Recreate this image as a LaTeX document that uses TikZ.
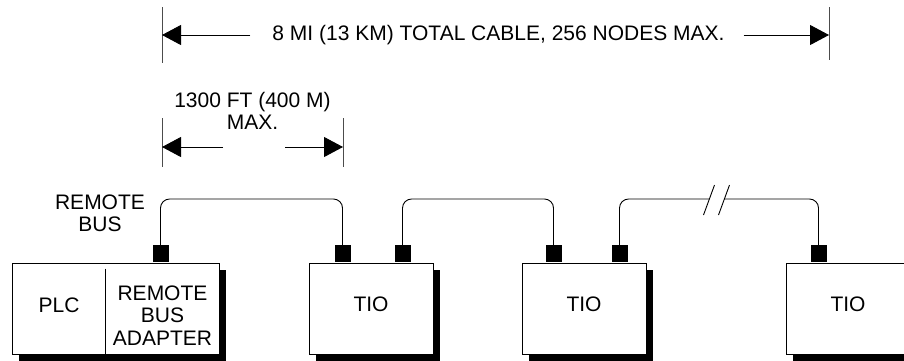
\documentclass[tikz,border=0pt]{standalone}
\usepackage{fontspec}
\setmainfont{Liberation Sans}
\usetikzlibrary{arrows.meta, shadows}
\tikzset{
    unit/.style={
        rectangle,
        draw=black,
        fill=white,
        line width=1pt,
        inner sep=0pt,
        minimum width=124pt,
        minimum height=91pt,
        drop shadow={shadow xshift=7pt, shadow yshift=-7pt, fill=black, opacity=1}
    },
    port/.style={
        rectangle,
        fill=black,
        inner sep=0pt,
        minimum width=16pt,
        minimum height=17pt,
        anchor=south
    },
    cable/.style={line width=0.9pt, rounded corners=9pt},
    dimline/.style={line width=0.8pt, black!70},
    dimarrow/.style={line width=0.9pt, -{Triangle[length=19pt,width=20pt]}}
}

\begin{document}
\begin{tikzpicture}[x=1pt, y=-1pt,
    every node/.style={font=\fontsize{21}{22.5}\selectfont, inner sep=0pt}]

\useasboundingbox (0,0) rectangle (904,360);

% units
\node (rba) [unit, minimum width=207pt] at (115.5,308.5) {};
\node (tio1) [unit] at (371,308.5) {};
\node (tio2) [unit] at (584,308.5) {};
\node (tio3) [unit] at (848,308.5) {};

\draw [line width=1pt] ([xshift=94pt, yshift=-6pt]rba.north west) -- ([xshift=94pt]rba.south west);

\node (plcname) at (59,305) {PLC};
\node (adaptername) [align=center] at (162.5,315.5) {REMOTE\\BUS\\ADAPTER};
\node (tio1name) at ([yshift=4pt]tio1.center) {TIO};
\node (tio2name) at ([yshift=4pt]tio2.center) {TIO};
\node (tio3name) at ([yshift=4pt]tio3.center) {TIO};

% ports
\node (port0) [port] at ([xshift=149pt]rba.north west) {};
\node (port1) [port] at ([xshift=34pt]tio1.north west) {};
\node (port2) [port] at ([xshift=94pt]tio1.north west) {};
\node (port3) [port] at ([xshift=32pt]tio2.north west) {};
\node (port4) [port] at ([xshift=98pt]tio2.north west) {};
\node (port5) [port] at ([xshift=33pt]tio3.north west) {};

% remote bus
\coordinate (bus) at (0,199);
\node (buslabel) [align=center] at (100,213.5) {REMOTE\\BUS};

\draw [cable] (port0.north) -- (port0.north |- bus) -- (port1.north |- bus) -- (port1.north);
\draw [cable] (port2.north) -- (port2.north |- bus) -- (port3.north |- bus) -- (port3.north);

\coordinate (brkL) at (709,199);
\coordinate (brkR) at (724,199);
\draw [cable] (port4.north) -- (port4.north |- bus) -- (brkL);
\draw [cable] (brkR) -- (port5.north |- bus) -- (port5.north);
\draw [line width=0.9pt] ([shift={(-5.5,16)}]brkL) -- ([shift={(5.5,-14)}]brkL);
\draw [line width=0.9pt] ([shift={(-5.5,16)}]brkR) -- ([shift={(5.5,-14)}]brkR);

% total cable length
\coordinate (totL) at (162,35);
\coordinate (totR) at (829,35);
\draw [dimline] ([yshift=28pt]totL) -- ([yshift=-28pt]totL);
\draw [dimline] ([yshift=28pt]totR) -- ([yshift=-25pt]totR);
\node (total) at (498.5,35) {8 MI (13 KM) TOTAL CABLE, 256 NODES MAX.};
\draw [dimarrow] ([xshift=-22pt]total.west) -- (totL);
\draw [dimarrow] ([xshift=19pt]total.east) -- (totR);

% segment length
\coordinate (segL) at (162,147);
\coordinate (segR) at (343,147);
\draw [dimline] ([yshift=29pt]segL) -- ([yshift=-20pt]segL);
\draw [dimline] ([yshift=29pt]segR) -- ([yshift=-20pt]segR);
\node (seglabel) [align=center] at (252.5,111) {1300 FT (400 M)\\MAX.};
\draw [dimarrow] ([xshift=61pt]segL) -- (segL);
\draw [dimarrow] ([xshift=-58pt]segR) -- (segR);

\end{tikzpicture}
\end{document}
